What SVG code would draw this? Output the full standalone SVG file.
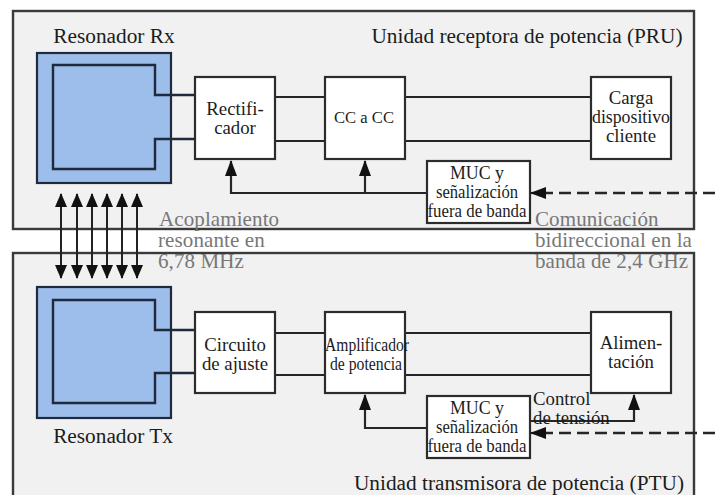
<svg xmlns="http://www.w3.org/2000/svg" width="715" height="495" viewBox="0 0 715 495">
<style>
text{font-family:"Liberation Serif","Times New Roman",serif;fill:#1c1c1c;text-anchor:middle}
.t{font-size:21.3px}.b{font-size:18.8px}.m{font-size:16.6px}.p{font-size:17.8px}.n{font-size:16.6px}
.g{font-size:21px;fill:#777;text-anchor:start;letter-spacing:.1px}
.panel{fill:#f1f1f1;stroke:#3a3a3a;stroke-width:2.4}
.box{fill:#fff;stroke:#2c2c2c;stroke-width:2.2}
.res{fill:#9dbdea;stroke:#1f2a3c;stroke-width:2.2}
.l{fill:none;stroke:#262626;stroke-width:2.2}
.c{fill:none;stroke:#1f2a3c;stroke-width:2.4}
.d{fill:none;stroke:#262626;stroke-width:2.4;stroke-dasharray:12 6}
.a{stroke:#222;stroke-width:2;fill:none;marker-start:url(#h);marker-end:url(#h)}
</style>
<defs>
<marker id="h" viewBox="0 0 14 12" refX="13" refY="6" markerWidth="14" markerHeight="12" markerUnits="userSpaceOnUse" orient="auto-start-reverse"><path d="M0 0L14 6L0 12z" fill="#111"/></marker>
<marker id="s" viewBox="0 0 16 12" refX="15" refY="6" markerWidth="16" markerHeight="12" markerUnits="userSpaceOnUse" orient="auto"><path d="M0 0L16 6L0 12z" fill="#111"/></marker>
</defs>
<rect width="715" height="495" fill="#fff"/>
<g id="panel-pru"><rect class="panel" x="13" y="11" width="681" height="218"/><text class="t" x="527" y="43">Unidad receptora de potencia (PRU)</text></g>
<g id="panel-ptu"><rect class="panel" x="13" y="253" width="681" height="250"/><text class="t" x="519" y="490">Unidad transmisora de potencia (PTU)</text></g>
<g id="connectors">
<path class="l" d="M155 95H195M155 139H195M275 97H325M275 141H325M405 97H591M405 141H591"/>
<path class="l" d="M427 193H231V161" marker-end="url(#s)"/>
<path class="l" d="M365 193V161" marker-end="url(#s)"/>
<path class="d" d="M715 193H546"/>
<path class="l" d="M547 193H531" marker-end="url(#s)"/>
<path class="l" d="M155 330H195M155 373H195M275 333H325M275 375H325M405 333H591M405 375H591"/>
<path class="l" d="M427 428H365V395" marker-end="url(#s)"/>
<path class="l" d="M530 421H634V395" marker-end="url(#s)"/>
<path class="d" d="M715 433H546"/>
<path class="l" d="M547 433H531" marker-end="url(#s)"/>
</g>
<g id="resonador-rx"><rect class="res" x="37" y="53" width="134" height="130"/><path class="c" d="M195 95H155V65H53V169H155V139H195"/><text class="t" x="114" y="43">Resonador Rx</text></g>
<g id="resonador-tx"><rect class="res" x="37" y="287" width="134" height="131"/><path class="c" d="M195 330H155V300H53V403H155V373H195"/><text class="t" x="113" y="443">Resonador Tx</text></g>
<g id="coupling"><path class="a" d="M61 194V278"/><path class="a" d="M77 194V278"/><path class="a" d="M92 194V278"/><path class="a" d="M107 194V278"/><path class="a" d="M122 194V278"/><path class="a" d="M137 194V278"/></g>
<g id="rectificador"><rect class="box" x="195" y="77" width="80" height="82"/><text class="b" x="235" y="115">Rectifi-</text><text class="b" x="235" y="134">cador</text></g>
<g id="cc-a-cc"><rect class="box" x="325" y="77" width="80" height="82"/><text class="n" x="364" y="123">CC a CC</text></g>
<g id="carga"><rect class="box" x="591" y="77" width="80" height="82"/><text class="b" x="631" y="104">Carga</text><text class="b" x="631" y="123" textLength="78" lengthAdjust="spacingAndGlyphs">dispositivo</text><text class="b" x="631" y="142">cliente</text></g>
<g id="muc-rx"><rect class="box" x="427" y="161" width="103" height="62"/><text class="b" x="477" y="179" textLength="54" lengthAdjust="spacingAndGlyphs">MUC y</text><text class="p" x="477" y="198" textLength="82" lengthAdjust="spacingAndGlyphs">señalización</text><text class="p" x="477" y="217" textLength="99" lengthAdjust="spacingAndGlyphs">fuera de banda</text></g>
<g id="circuito"><rect class="box" x="195" y="312" width="80" height="81"/><text class="b" x="235" y="351">Circuito</text><text class="b" x="235" y="370">de ajuste</text></g>
<g id="amplificador"><rect class="box" x="325" y="312" width="80" height="81"/><text class="p" x="367" y="351" textLength="84" lengthAdjust="spacingAndGlyphs">Amplificador</text><text class="p" x="366" y="370" textLength="72" lengthAdjust="spacingAndGlyphs">de potencia</text></g>
<g id="alimentacion"><rect class="box" x="591" y="312" width="80" height="81"/><text class="b" x="631" y="349">Alimen-</text><text class="b" x="631" y="368">tación</text></g>
<g id="muc-tx"><rect class="box" x="427" y="396" width="103" height="62"/><text class="b" x="477" y="414" textLength="54" lengthAdjust="spacingAndGlyphs">MUC y</text><text class="p" x="477" y="433" textLength="82" lengthAdjust="spacingAndGlyphs">señalización</text><text class="p" x="477" y="452" textLength="99" lengthAdjust="spacingAndGlyphs">fuera de banda</text></g>
<g id="labels">
<text class="b" x="533" y="405" style="text-anchor:start">Control</text><text class="b" x="533" y="424" style="text-anchor:start">de tensión</text>
<text class="g" x="159" y="226">Acoplamiento</text><text class="g" x="158" y="247">resonante en</text><text class="g" x="158" y="268">6,78 MHz</text>
<text class="g" x="535" y="226">Comunicación</text><text class="g" x="535" y="247">bidireccional en la</text><text class="g" x="535" y="268">banda de 2,4 GHz</text>
</g>
</svg>
